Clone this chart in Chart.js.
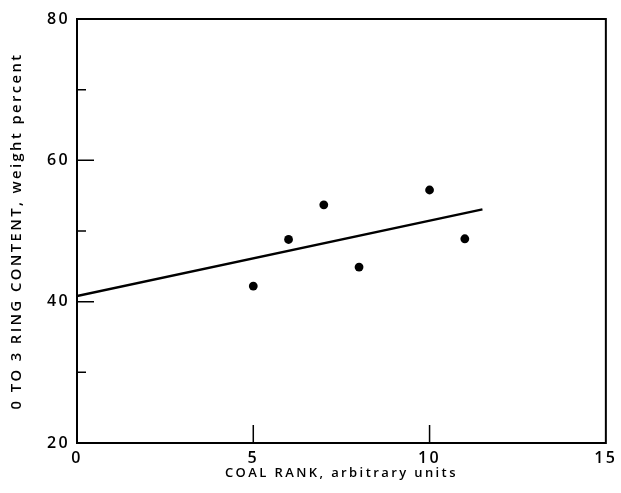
<!DOCTYPE html>
<html>
<head>
<meta charset="utf-8">
<script src="https://cdn.jsdelivr.net/npm/chart.js@4"></script>
<style>
  body { margin: 0; background: #fff; }
  #wrap { width: 621px; height: 493px; }
</style>
</head>
<body>
<div id="wrap"><canvas id="chart"></canvas></div>
<script>
const coalRank = [5, 6, 7, 8, 10, 11];
const ringContent = [42.2, 48.8, 53.7, 44.9, 55.8, 48.9];
const fitX = [0, 11.5];
const fitY = [40.8, 53.05];
const xLabelTicks = [0, 5, 10, 15];
const yLabelTicks = [20, 40, 60, 80];
const xMarks = [5, 10];
const yMajorMarks = [40, 60];
const yMinorMarks = [30, 50, 70];

const points = coalRank.map((x, i) => ({x: x, y: ringContent[i]}));
const fitLine = fitX.map((x, i) => ({x: x, y: fitY[i]}));

const fontFam = '"Open Sans", "DejaVu Sans", sans-serif';

// box + inward ticks, drawn from the scales
const frame = {
    id: 'frame',
    beforeDraw(chart) {
        chart.ctx.letterSpacing = '2.4px';
    },
    afterDraw(chart) {
        const ctx = chart.ctx;
        const a = chart.chartArea;
        const xs = chart.scales.x;
        const ys = chart.scales.y;
        ctx.save();
        ctx.strokeStyle = '#000';
        ctx.lineWidth = 2;
        ctx.strokeRect(a.left, a.top, a.right - a.left, a.bottom - a.top);
        ctx.lineWidth = 1.5;
        ctx.beginPath();
        xMarks.forEach(v => {
            const px = xs.getPixelForValue(v);
            ctx.moveTo(px, a.bottom);
            ctx.lineTo(px, a.bottom - 18);
        });
        yMajorMarks.forEach(v => {
            const py = ys.getPixelForValue(v);
            ctx.moveTo(a.left, py);
            ctx.lineTo(a.left + 17, py);
        });
        yMinorMarks.forEach(v => {
            const py = ys.getPixelForValue(v);
            ctx.moveTo(a.left, py);
            ctx.lineTo(a.left + 9, py);
        });
        ctx.stroke();
        ctx.restore();
    }
};

new Chart(document.getElementById('chart'), {
    type: 'scatter',
    data: {
        datasets: [{
            data: points,
            backgroundColor: '#000',
            borderWidth: 0,
            pointRadius: 4.4
        }, {
            data: fitLine,
            showLine: true,
            borderColor: '#000',
            borderWidth: 2.3,
            pointRadius: 0
        }]
    },
    options: {
        responsive: true,
        maintainAspectRatio: false,
        animation: false,
        layout: { padding: { top: 19, right: 15, left: 0, bottom: 0 } },
        plugins: { legend: { display: false }, tooltip: { enabled: false } },
        scales: {
            x: {
                type: 'linear',
                min: 0,
                max: 15,
                afterFit(s) { s.height = 50; },
                grid: { display: false, drawTicks: false },
                border: { display: false },
                ticks: {
                    stepSize: 5,
                    padding: 6,
                    color: '#000',
                    font: { family: fontFam, size: 16, weight: '600' },
                    callback: v => xLabelTicks.includes(v) ? String(v) : ''
                },
                title: {
                    display: true,
                    text: 'COAL RANK, arbitrary units',
                    color: '#000',
                    font: { family: fontFam, size: 13, weight: '600' },
                    padding: { top: 0, bottom: 12 }
                }
            },
            y: {
                min: 20,
                max: 80,
                afterFit(s) { s.width = 77; },
                grid: { display: false, drawTicks: false },
                border: { display: false },
                ticks: {
                    stepSize: 10,
                    padding: 7,
                    color: '#000',
                    font: { family: fontFam, size: 16, weight: '600' },
                    callback: v => yLabelTicks.includes(v) ? String(v) : ''
                },
                title: {
                    display: true,
                    text: '0 TO 3 RING CONTENT, weight percent',
                    color: '#000',
                    font: { family: fontFam, size: 14.8, weight: '600' },
                    padding: { top: 8, bottom: 0 }
                }
            }
        }
    },
    plugins: [frame]
});
</script>
</body>
</html>
